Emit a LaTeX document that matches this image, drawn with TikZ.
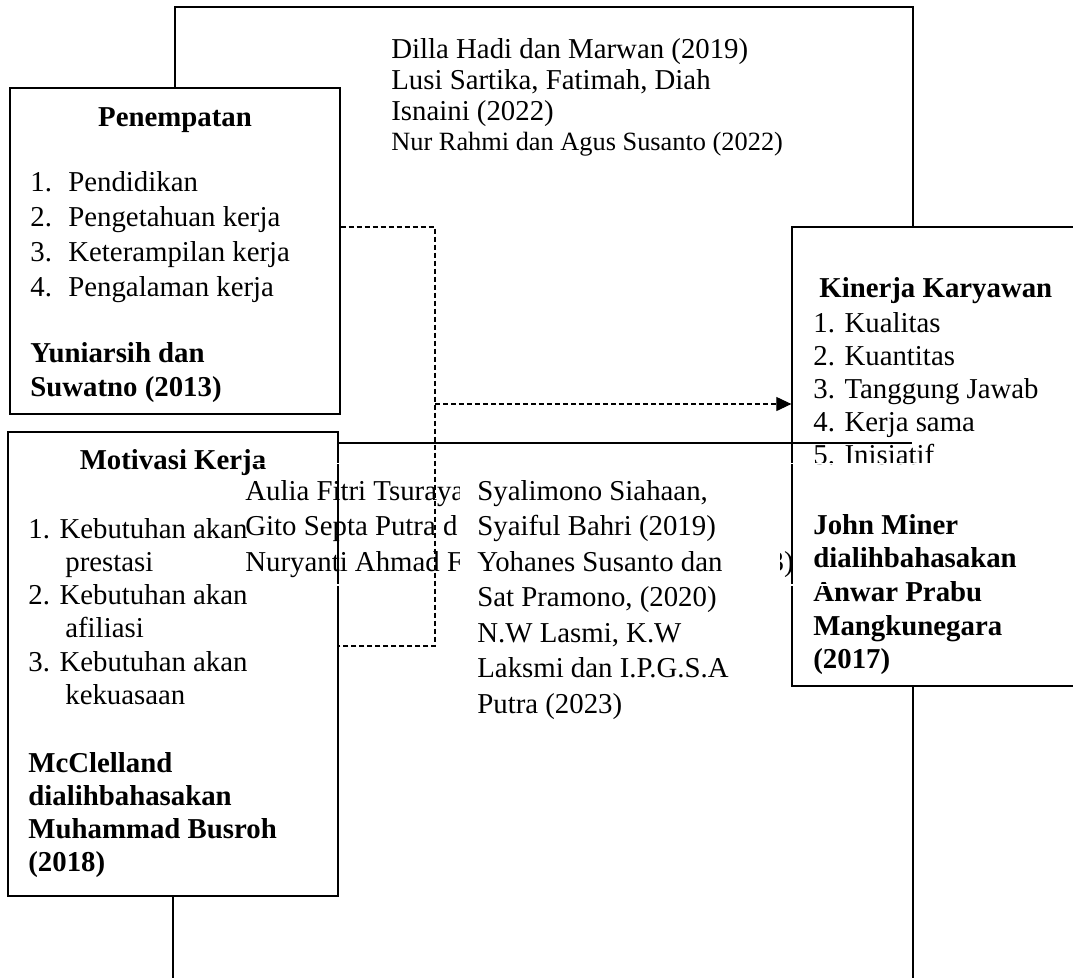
\documentclass[tikz,border=0pt]{standalone}
\usepackage{fontspec}
\setmainfont{Liberation Serif}
\usetikzlibrary{arrows.meta,positioning}

\tikzset{
	kotak/.style={draw, fill=white, line width=0.75pt, inner sep=0pt},
	teks/.style={inner sep=0pt, anchor=base west, font=\fontsize{16.4}{19}\selectfont},
	tebal/.style={teks, font=\fontsize{16.4}{19}\selectfont\bfseries},
	judul/.style={tebal, anchor=base},
	garis/.style={line width=0.6pt},
	putus/.style={line width=0.6pt, dash pattern=on 0.1cm off 0.06cm}
}

\begin{document}
\begin{tikzpicture}[x=0.02cm,y=-0.02cm]
		\useasboundingbox (0,0) rectangle (1073,978);
		
		\coordinate (atas-kiri) at (175,7);
		\coordinate (atas-kanan) at (913,7);
		\coordinate (bawah-kiri) at (173,978);
		\coordinate (bawah-kanan) at (913,978);
		
		\node[kotak, minimum width=6.6cm, minimum height=6.52cm] (pen) at (175,251) {};
		\node[kotak, minimum width=6.6cm, minimum height=9.28cm] (mot) at (173,664) {};
		\node[kotak, minimum width=6.06cm, minimum height=9.18cm] (kin) at (943.5,456.5) {};
		
		\draw[garis] (pen.north) -- (atas-kiri) -- (atas-kanan) -- (atas-kanan |- kin.north);
		\draw[garis] (mot.south) -- (bawah-kiri);
		\draw[garis] (kin.south -| bawah-kanan) -- (bawah-kanan);
		
		\foreach \t [count=\i] in {Dilla Hadi dan Marwan (2019), {Lusi Sartika, Fatimah, Diah}, Isnaini (2022)}
			\node[teks] (ref-atas-\i) at (391, 27+\i*31) {\t};
		\node[teks, font=\fontsize{15}{18}\selectfont] (ref-atas-4) at (391,150) {Nur Rahmi dan Agus Susanto (2022)};
		
		\node[judul] (pen-judul) at (175,126) {Penempatan};
		\foreach \t [count=\i] in {Pendidikan, Pengetahuan kerja, Keterampilan kerja, Pengalaman kerja} {
			\node[teks] (pen-no-\i) at (30, 156+\i*35) {\i.};
			\node[teks] (pen-\i) at (68, 156+\i*35) {\t};
		}
		\node[tebal] (pen-ref-1) at (30,362) {Yuniarsih dan};
		\node[tebal] (pen-ref-2) at (30,396) {Suwatno (2013)};
		
		\node[judul] (mot-judul) at (173,469) {Motivasi Kerja};
		\foreach \t [count=\i] in {prestasi, afiliasi, kekuasaan} {
			\node[teks] (mot-\i) at (28, 471.5+\i*66.5) {\i. Kebutuhan akan};
			\node[teks] (mot-\i-b) at (65, 504.5+\i*66.5) {\t};
		}
		\foreach \t [count=\i] in {McClelland, dialihbahasakan, Muhammad Busroh, (2018)}
			\node[tebal] (mot-ref-\i) at (28, 738.7+\i*33.3) {\t};
		
		\node[tebal] (kin-judul) at (819,297) {Kinerja Karyawan};
		\foreach \t [count=\i] in {Kualitas, Kuantitas, Tanggung Jawab, Kerja sama, Inisiatif}
			\node[teks] (kin-\i) at (813, 299+\i*33) {\i. \t};
		\foreach \t [count=\i] in {John Miner, dialihbahasakan, Anwar Prabu, Mangkunegara, (2017)}
			\node[tebal] (kin-ref-\i) at (813, 500.3+\i*33.7) {\t};
		
		\begin{scope}
			\clip (240,470) rectangle (459,590);
			\foreach \t [count=\i] in {Aulia Fitri Tsuraya, Gito Septa Putra d, Nuryanti Ahmad F}
				\node[teks] (ref-kiri-\i) at (245, 464.5+\i*35.5) {\t};
		\end{scope}
		\begin{scope}
			\clip (780,540) rectangle (800,590);
			\node[teks, anchor=base east] (ref-kiri-ujung) at (794,571) {3)};
		\end{scope}
		\foreach \t [count=\i] in {{Syalimono Siahaan,}, Syaiful Bahri (2019), Yohanes Susanto dan, {Sat Pramono, (2020)}, {N.W Lasmi, K.W}, Laksmi dan I.P.G.S.A, Putra (2023)}
			\node[teks] (ref-tengah-\i) at (477, 464.5+\i*35.5) {\t};
		
		\coordinate (ujung-garis) at (912,443);
		\draw[garis] (mot.east |- ujung-garis) -- (ujung-garis);
		
		\draw[white, line width=0.8pt] (250,463.5) -- (1000,463.5);
		\draw[white, line width=0.8pt] (250,585) -- (840,585);
		
		\coordinate (simpang-atas) at (435,227);
		\coordinate (simpang-bawah) at (435,646);
		\coordinate (simpang-panah) at (435,404);
		\draw[putus] (pen.east |- simpang-atas) -- (simpang-atas) -- (simpang-bawah) -- (mot.east |- simpang-bawah);
		\draw[putus, -{Triangle[length=0.3cm, width=0.28cm]}] (simpang-panah) -- (simpang-panah -| kin.west);
	
	\end{tikzpicture}
\end{document}
